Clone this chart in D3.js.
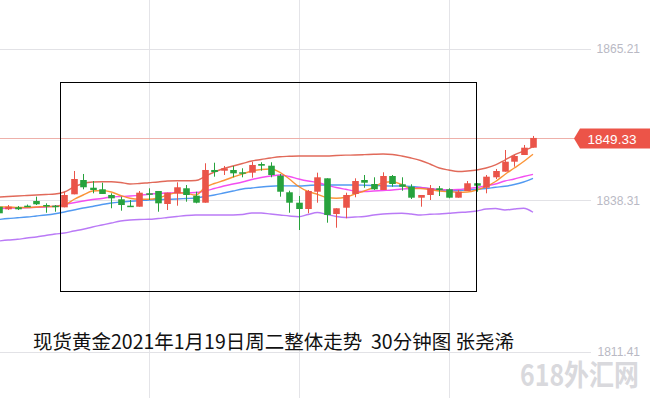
<!DOCTYPE html>
<html>
<head>
<meta charset="utf-8">
<script src="https://cdn.jsdelivr.net/npm/d3@7"></script>
<style>
  body { margin: 0; background: #fff; }
  svg { display: block; }
</style>
</head>
<body>
<svg></svg>
<script>
var width = 650;
var height = 398;

var svg = d3.select('svg')
  .attr("width", width)
  .attr("height", height);

// 30 minute candles, XAUUSD, 2021-01-19
var opens = [1837.12,1836.66,1837.01,1837.30,1838.13,1837.42,1837.30,1837.01,1839.32,1841.86,
  1840.49,1840.21,1839.20,1838.43,1837.30,1837.12,1839.50,1839.91,1837.60,1839.50,
  1840.39,1839.07,1837.83,1843.64,1843.51,1843.64,1843.23,1843.16,1844.70,1844.40,
  1842.63,1839.68,1837.83,1836.71,1839.78,1842.16,1835.82,1836.94,1839.38,1841.86,
  1841.15,1840.09,1842.57,1841.10,1840.67,1838.72,1839.20,1840.39,1840.21,1838.72,
  1839.91,1841.28,1840.49,1842.34,1843.34,1845.11,1846.30,1847.60];
var closes = [1835.95,1837.12,1836.66,1837.22,1837.55,1837.24,1837.12,1839.20,1842.04,1840.57,
  1840.09,1839.38,1838.61,1837.42,1837.12,1839.61,1839.38,1837.72,1839.61,1840.57,
  1839.20,1837.83,1843.64,1843.28,1843.94,1843.05,1843.05,1844.53,1844.40,1842.75,
  1839.78,1837.83,1836.71,1839.91,1842.34,1835.65,1836.84,1839.20,1841.68,1841.38,
  1840.21,1842.57,1841.15,1840.67,1838.72,1839.20,1840.39,1840.09,1838.72,1839.78,
  1841.28,1840.85,1842.45,1843.46,1845.11,1846.12,1847.60,1849.33];
var highs = [1837.42,1837.42,1837.24,1837.50,1838.90,1837.72,1837.42,1839.78,1843.46,1842.93,
  1841.68,1841.38,1839.50,1838.90,1838.31,1839.91,1840.39,1839.91,1839.61,1841.45,
  1840.97,1839.78,1844.83,1844.93,1844.35,1844.35,1843.94,1845.11,1845.01,1845.01,
  1842.93,1839.96,1839.02,1840.09,1843.16,1842.16,1836.84,1839.61,1842.16,1842.75,
  1842.34,1843.23,1842.75,1842.34,1841.10,1839.20,1840.97,1840.80,1840.39,1840.09,
  1841.68,1841.28,1842.75,1843.82,1847.19,1846.30,1848.08,1849.68];
var lows = [1835.65,1836.53,1836.53,1837.10,1837.42,1836.05,1836.23,1837.01,1839.32,1840.21,
  1839.50,1839.38,1836.84,1836.41,1837.12,1837.12,1838.31,1836.23,1836.53,1837.30,
  1838.01,1837.72,1837.83,1842.45,1842.75,1842.34,1842.34,1842.27,1843.51,1842.34,
  1838.90,1836.05,1832.98,1835.95,1837.83,1834.28,1833.39,1835.06,1838.79,1840.49,
  1840.09,1840.09,1840.67,1839.96,1838.49,1837.12,1838.31,1839.02,1838.61,1838.72,
  1839.91,1839.78,1839.50,1842.04,1843.34,1844.22,1846.30,1847.60];

// indicator lines
var bollUp = [1838.84,1838.93,1839.02,1839.11,1839.20,1839.29,1839.38,1839.73,1840.62,1841.24,
  1841.51,1841.56,1841.56,1841.42,1841.15,1841.24,1841.38,1841.51,1841.68,1841.74,
  1841.74,1841.77,1842.48,1843.28,1843.90,1844.35,1844.79,1845.24,1845.50,1845.77,
  1846.00,1846.07,1846.12,1846.12,1846.12,1846.12,1846.21,1846.27,1846.30,1846.36,
  1846.43,1846.48,1846.39,1846.12,1845.77,1845.33,1844.70,1843.99,1843.64,1843.37,
  1843.46,1843.64,1843.99,1844.53,1845.41,1846.30,1847.01,1847.78];
var ma5 = [1837.07,1837.07,1836.98,1836.98,1837.07,1837.16,1837.16,1837.42,1838.40,1839.20,
  1839.91,1840.00,1839.73,1839.11,1838.61,1838.43,1838.43,1838.67,1839.20,1839.61,
  1839.50,1839.20,1840.53,1841.24,1841.77,1842.39,1842.93,1843.46,1843.73,1843.82,
  1843.23,1842.04,1840.71,1839.82,1839.32,1838.75,1838.61,1838.79,1839.38,1839.91,
  1840.53,1841.42,1841.56,1841.06,1840.35,1840.35,1840.17,1839.91,1839.78,1839.68,
  1839.73,1840.09,1840.71,1841.60,1842.84,1843.99,1845.15,1846.43];
var ma10 = [1836.80,1836.85,1836.89,1836.94,1837.01,1837.07,1837.19,1837.51,1837.83,1838.13,
  1838.40,1838.58,1838.84,1838.93,1839.02,1839.14,1839.32,1839.46,1839.55,1839.61,
  1839.61,1839.64,1839.91,1840.35,1840.80,1841.15,1841.51,1841.95,1842.31,1842.57,
  1842.75,1842.48,1842.04,1841.68,1841.42,1840.97,1840.53,1840.21,1839.91,1839.82,
  1839.91,1840.00,1840.09,1840.26,1840.35,1840.53,1840.35,1840.17,1840.09,1840.17,
  1840.35,1840.53,1840.80,1841.15,1841.68,1842.04,1842.48,1842.87];
var ma20 = [1834.85,1835.02,1835.15,1835.29,1835.47,1835.65,1835.88,1836.18,1836.53,1836.89,
  1837.16,1837.51,1837.78,1837.95,1838.08,1838.19,1838.31,1838.36,1838.43,1838.49,
  1838.58,1838.67,1838.93,1839.20,1839.55,1839.91,1840.26,1840.44,1840.62,1840.76,
  1840.83,1840.81,1840.80,1840.89,1840.97,1840.97,1840.97,1840.97,1840.97,1840.94,
  1840.89,1840.83,1840.80,1840.80,1840.71,1840.53,1840.32,1840.09,1839.91,1840.00,
  1840.09,1840.21,1840.35,1840.57,1840.74,1841.06,1841.51,1842.16];
var bollDn = [1831.03,1831.21,1831.33,1831.56,1831.74,1832.01,1832.27,1832.45,1832.80,1833.11,
  1833.51,1833.87,1834.23,1834.58,1834.76,1834.85,1834.88,1835.02,1835.20,1835.38,
  1835.56,1835.65,1835.65,1835.65,1835.65,1835.65,1835.73,1836.00,1836.00,1835.82,
  1835.65,1835.47,1835.34,1835.73,1836.09,1835.73,1835.38,1835.20,1835.29,1835.38,
  1835.65,1835.82,1835.91,1835.95,1835.82,1835.65,1835.77,1835.82,1835.95,1836.09,
  1836.18,1836.36,1836.71,1836.80,1836.53,1836.71,1836.84,1836.13];

var priceTicks = [1865.21, 1838.31, 1811.41];
var lastPrice = 1849.33;
var title = "现货黄金2021年1月19日周二整体走势  30分钟图 张尧浠";
var watermark = "618外汇网";

var upColor = "#ea5449";
var downColor = "#27a23d";

var candles = opens.map(function(o, i) {
  return { i: i, o: o, c: closes[i], h: highs[i], l: lows[i] };
});

var scaleX = d3.scaleLinear()
  .domain([0, candles.length - 1])
  .range([-1.2, 533]);

var scaleY = d3.scaleLinear()
  .domain([1811.41, 1865.21])
  .range([351.5, 48.5]);

var bodyW = 6.6;

// vertical grid
var vGrid = [16, 32, 48];
svg.selectAll(".vgrid")
  .data(vGrid)
  .enter()
  .append("line")
  .attr("class", "vgrid")
  .attr("x1", function(d) { return Math.round(scaleX(d)) + 0.5; })
  .attr("x2", function(d) { return Math.round(scaleX(d)) + 0.5; })
  .attr("y1", 0)
  .attr("y2", height)
  .attr("stroke", "#e4e4e8")
  .attr("stroke-width", 1);

// horizontal grid + right labels
svg.selectAll(".hgrid")
  .data(priceTicks)
  .enter()
  .append("line")
  .attr("class", "hgrid")
  .attr("x1", 0)
  .attr("x2", 591)
  .attr("y1", function(d) { return Math.round(scaleY(d)) + 0.5; })
  .attr("y2", function(d) { return Math.round(scaleY(d)) + 0.5; })
  .attr("stroke", "#e2e2e6")
  .attr("stroke-width", 1);

svg.selectAll(".ylab")
  .data(priceTicks)
  .enter()
  .append("text")
  .attr("class", "ylab")
  .attr("x", 640)
  .attr("y", function(d) { return scaleY(d) + 4.5; })
  .attr("text-anchor", "end")
  .attr("font-family", "'Liberation Sans', Arial, sans-serif")
  .attr("font-size", 12)
  .attr("fill", "#b9b9c4")
  .text(function(d) { return d.toFixed(2); });

// last price line
var yLast = Math.round(scaleY(lastPrice)) + 0.5;
svg.append("line")
  .attr("x1", 0)
  .attr("x2", 576)
  .attr("y1", yLast)
  .attr("y2", yLast)
  .attr("stroke", "#eeb0aa")
  .attr("stroke-width", 1);

// indicator lines
var lineGen = d3.line()
  .x(function(d, i) { return scaleX(i); })
  .y(function(d) { return scaleY(d); })
  .curve(d3.curveMonotoneX);

var series = [
  { values: bollDn, color: "#b36bf5" },
  { values: bollUp, color: "#de5a48" },
  { values: ma20, color: "#3f8ff0" },
  { values: ma10, color: "#f23cf0" },
  { values: ma5, color: "#fb8a22" }
];

svg.selectAll(".ind")
  .data(series)
  .enter()
  .append("path")
  .attr("class", "ind")
  .attr("d", function(d) { return lineGen(d.values); })
  .attr("fill", "none")
  .attr("stroke", function(d) { return d.color; })
  .attr("stroke-width", 1.4)
  .attr("stroke-opacity", 0.9);

// candles
var g = svg.selectAll(".candle")
  .data(candles)
  .enter()
  .append("g")
  .attr("class", "candle");

var getColor = function(d) { return d.c >= d.o ? upColor : downColor; };

g.append("line")
  .attr("x1", function(d) { return Math.round(scaleX(d.i)) + 0.5; })
  .attr("x2", function(d) { return Math.round(scaleX(d.i)) + 0.5; })
  .attr("y1", function(d) { return scaleY(d.h); })
  .attr("y2", function(d) { return scaleY(d.l); })
  .attr("stroke", getColor)
  .attr("stroke-width", 1);

g.append("rect")
  .attr("x", function(d) { return Math.round(scaleX(d.i)) + 0.5 - bodyW / 2; })
  .attr("y", function(d) { return scaleY(Math.max(d.o, d.c)); })
  .attr("width", bodyW)
  .attr("height", function(d) { return Math.max(1.5, Math.abs(scaleY(d.o) - scaleY(d.c))); })
  .attr("fill", getColor);

// price tag
var tag = svg.append("g");
tag.append("path")
  .attr("d", "M574," + yLast + " L580," + (yLast - 10) + " L650," + (yLast - 10) +
             " L650," + (yLast + 10) + " L580," + (yLast + 10) + " Z")
  .attr("fill", "#ec5448");
tag.append("text")
  .attr("x", 612)
  .attr("y", yLast + 5)
  .attr("text-anchor", "middle")
  .attr("font-family", "'Liberation Sans', Arial, sans-serif")
  .attr("font-size", 13.5)
  .attr("fill", "#fff")
  .text(lastPrice.toFixed(2));

// annotation box
svg.append("rect")
  .attr("x", 60.5)
  .attr("y", 82.5)
  .attr("width", 416)
  .attr("height", 209)
  .attr("fill", "none")
  .attr("stroke", "#000")
  .attr("stroke-width", 1);

// title
svg.append("text")
  .attr("x", 33)
  .attr("y", 349)
  .attr("xml:space", "preserve")
  .attr("font-family", "'Noto Sans CJK SC', sans-serif")
  .attr("font-size", 19.5)
  .attr("fill", "#111")
  .style("white-space", "pre")
  .text(title);

// watermark
svg.append("text")
  .attr("transform", "translate(520,386) scale(0.86,1)")
  .attr("font-family", "'Noto Sans CJK SC', sans-serif")
  .attr("font-weight", "bold")
  .attr("font-size", 29)
  .attr("fill", "#d9d9dd")
  .text(watermark);
</script>
</body>
</html>
